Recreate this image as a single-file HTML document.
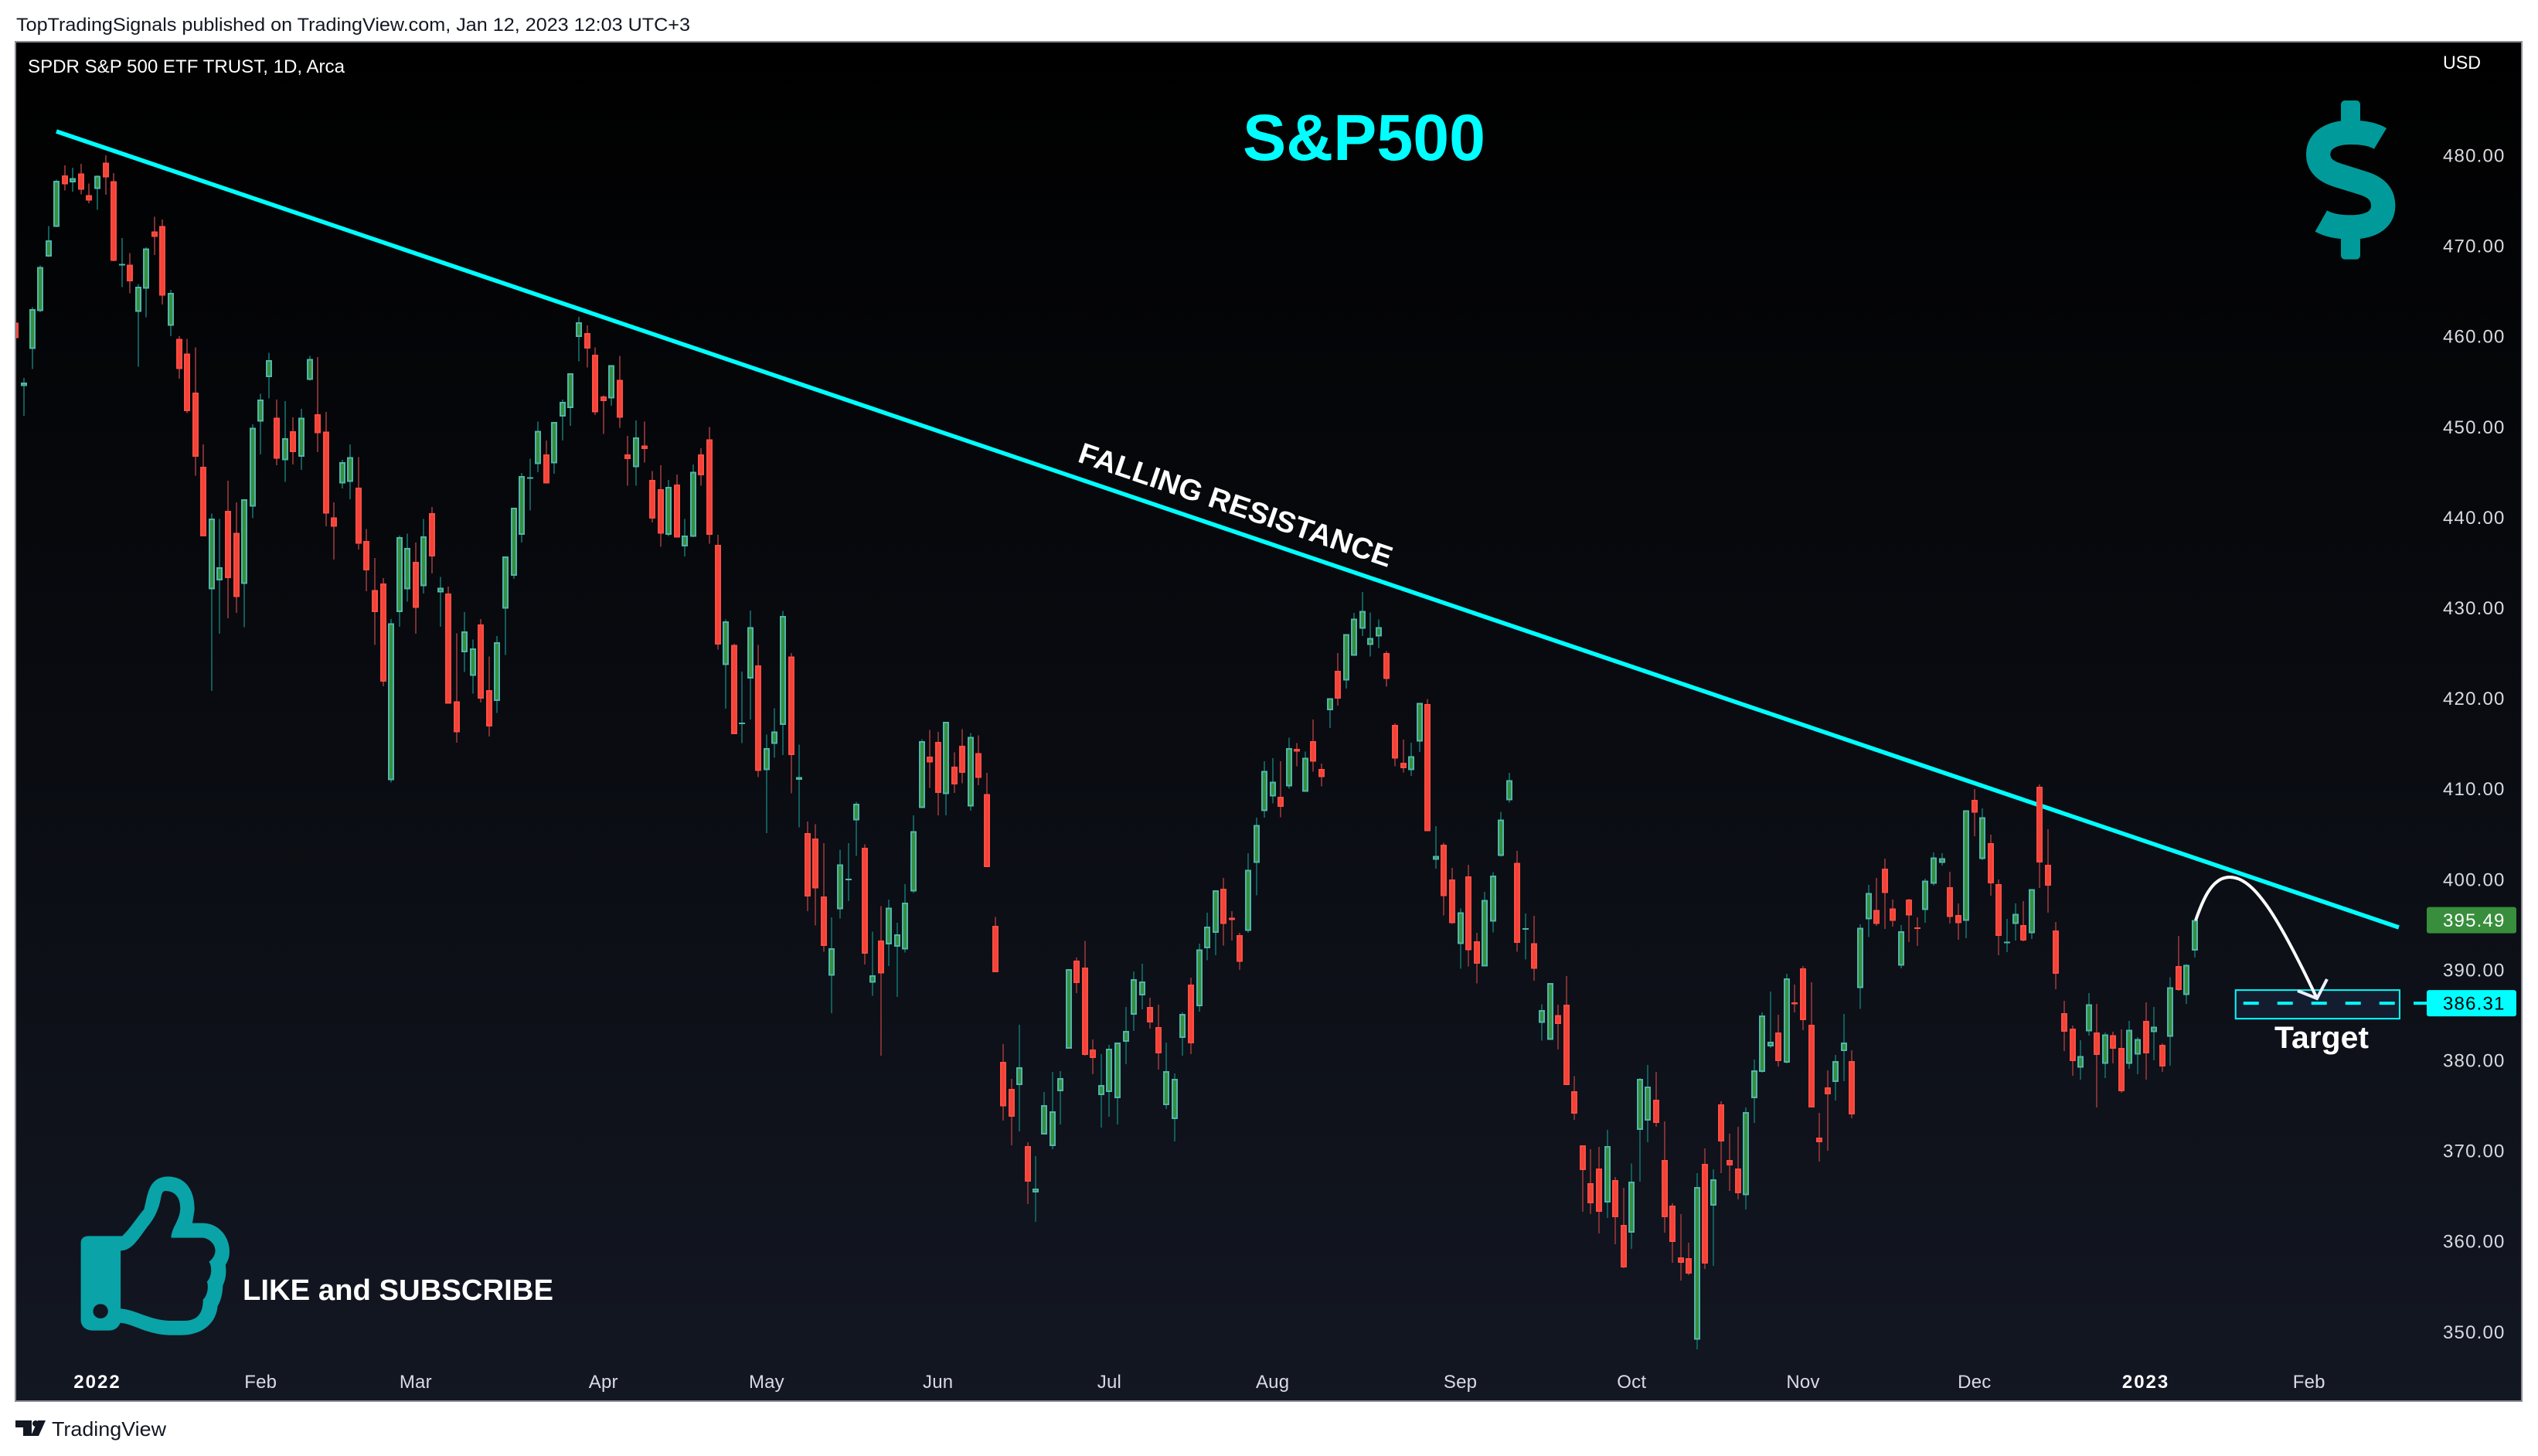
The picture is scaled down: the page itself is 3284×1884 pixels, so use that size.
<!DOCTYPE html>
<html lang="en">
<head>
<meta charset="utf-8">
<title>SPDR S&amp;P 500 ETF TRUST chart</title>
<style>
html,body{margin:0;padding:0;background:#fff;width:3284px;height:1884px;overflow:hidden}
svg{display:block}
text{font-family:"Liberation Sans",sans-serif}
</style>
</head>
<body>
<svg id="chart" xmlns="http://www.w3.org/2000/svg" width="3284" height="1884" viewBox="0 0 3284 1884">
  <defs>
    <linearGradient id="paneGrad" x1="0" y1="0" x2="0" y2="1">
      <stop offset="0" stop-color="#000000"/>
      <stop offset="1" stop-color="#131722"/>
    </linearGradient>
    <clipPath id="paneClip"><rect x="21" y="55" width="3241" height="1757"/></clipPath>
  </defs>

  <text x="21" y="40" font-size="24" fill="#131722" textLength="872" lengthAdjust="spacingAndGlyphs">TopTradingSignals published on TradingView.com, Jan 12, 2023 12:03 UTC+3</text>

  <rect x="20" y="54" width="3243" height="1759" fill="url(#paneGrad)" stroke="#8b8e96" stroke-width="2"/>

  <text x="36" y="94" font-size="24" fill="#ffffff" textLength="410" lengthAdjust="spacingAndGlyphs">SPDR S&amp;P 500 ETF TRUST, 1D, Arca</text>
  <text x="3161" y="89" font-size="24" fill="#ffffff" textLength="49" lengthAdjust="spacingAndGlyphs">USD</text>
  <text x="1608" y="207" font-size="84" font-weight="bold" fill="#00ffff" textLength="314" lengthAdjust="spacingAndGlyphs">S&amp;P500</text>

  <g id="annotLayer" clip-path="url(#paneClip)"></g>
  <g id="candleLayer" clip-path="url(#paneClip)" shape-rendering="crispEdges"></g>

  <text transform="translate(1393,597) rotate(18.8)" font-size="38" font-weight="bold" fill="#ffffff" textLength="426" lengthAdjust="spacingAndGlyphs">FALLING RESISTANCE</text>

  <path d="M2841 1191 C2850 1165 2862 1135 2885 1135 C2915 1135 2945 1180 2998 1292" fill="none" stroke="#ffffff" stroke-width="4"/>
  <polyline points="3011,1267 2998,1292 2973,1282" fill="none" stroke="#eaf0ff" stroke-width="4"/>
  <text x="2943" y="1356" font-size="40" font-weight="bold" fill="#ffffff" textLength="122" lengthAdjust="spacingAndGlyphs">Target</text>

  <g transform="translate(2850,40) scale(0.3333)">
    <rect x="537" y="270" width="75" height="110" rx="16" fill="#019a9a"/>
    <rect x="537" y="780" width="75" height="107" rx="16" fill="#019a9a"/>
    <path d="M690 418 C660 400 620 394 575 394 C500 394 449 425 449 478 C449 530 490 550 530 562 L620 590 C670 605 701 630 701 680 C701 735 650 762 575 762 C530 762 490 755 460 738" fill="none" stroke="#019a9a" stroke-width="94"/>
    <circle cx="695" cy="410" r="0" fill="#019a9a"/>
  </g>

  <g transform="translate(0,1480) scale(0.5102,0.3333)">
    <path fill="#09a3a8" fill-rule="evenodd" d="M225 358 L310 358 C330 330 350 280 365 255 C375 200 375 130 425 127 C475 127 495 190 493 260 L488 308 L515 308 C560 310 583 370 582 420 C582 440 578 455 572 470 C575 500 572 530 565 550 C565 580 560 610 552 630 C548 700 510 743 460 743 L430 743 C370 740 340 700 305 695 C300 715 290 725 275 725 L235 725 C215 725 205 705 205 685 L205 385 C205 368 212 358 225 358 Z M306 415 C335 415 350 370 375 320 C395 285 405 240 408 210 C410 195 412 185 418 183 C445 183 458 210 457 255 C455 300 435 325 434 365 L515 365 C535 370 546 395 546 415 C546 430 540 447 530 458 C538 475 538 515 525 535 C530 560 525 590 515 605 C515 650 505 685 470 687 L430 687 C380 685 345 645 306 640 Z M236 650 A19 28 0 1 0 274 650 A19 28 0 1 0 236 650 Z"/>
  </g>
  <text x="314" y="1682" font-size="38" font-weight="bold" fill="#ffffff" textLength="402" lengthAdjust="spacingAndGlyphs">LIKE and SUBSCRIBE</text>

  <g id="yAxis"></g>
  <g id="xAxis"></g>
  <g id="tags"></g>

  <g fill="#131722">
    <path d="M20 1838 H41 V1858 H30 V1847 H20 Z M59 1838 L50 1858 H40 L49 1838 Z"/>
    <circle cx="46" cy="1842" r="4"/>
    <text x="67" y="1858" font-size="26" textLength="148" lengthAdjust="spacingAndGlyphs">TradingView</text>
  </g>
</svg>

<script>
// Bars start at index -10 (Dec 2021); bar 0 = first session of 2022.
const firstBar = -10;
const opens = [
461.5,454.5,458.6,462.8,468.8,472.1,477.8,477.0,478.0,475.6,
476.3,479.2,477.15,467.85,467.9,462.7,465.25,471.6,472.2,461.15,
459.7,458.1,453.8,445.6,432.05,433.05,440.7,438.3,432.65,441.2,
450.6,455.5,451,446.3,449.5,446.7,455.2,451.4,449.45,440,
443.75,443.9,443.3,437.4,431.95,432.7,410.95,429.55,432.05,435.1,
432.4,440.45,431.7,431.6,419.65,425.1,422.5,428.15,420.9,419.7,
429.9,433.55,438.05,444.3,445.9,446.95,445.97,451.15,452.06,459.95,
460.35,457.95,453.35,453.15,455.2,446.95,445.55,447.95,444.15,443.1,
438.05,443.6,436.8,437.85,446.95,448.6,436.95,423.7,425.9,417.2,
422.2,423.65,412.05,414.97,417.05,424.6,411,405.1,404.5,398.1,
389.35,396.7,399.9,406.5,403.5,388.6,393.25,392.8,392.55,392.25,
398.65,407.9,413.55,415.2,409.4,412.45,414.75,408.05,413.95,409.4,
394.85,379.83,376.84,377.27,370.52,365.4,371.81,370.52,376.59,381.28,
391.02,390.25,381.2,376.16,376.5,375.82,382.05,385.04,387.18,385.9,
383.68,375.05,373.51,382.48,388.37,385.98,392.4,394.1,398.96,395.75,
393.85,394.3,401.8,407.54,409.18,409.1,410.28,414.4,409.67,415.28,
412.19,418.7,423.06,421.99,424.7,427.7,425.9,426.83,425,417.07,
412.88,412.07,415.24,419.36,402.16,403.84,399.99,392.86,400.33,393.17,
390.38,395.34,402.58,408.72,401.82,394.46,392.94,384.13,382.25,385.01,
386.15,376.59,370.61,366.43,368.05,364.29,366.77,361.81,360.96,372.32,
373.34,375.65,368.99,363.95,358.23,358.14,349.12,368.56,363.95,375.14,
368.99,368.05,365.09,375.82,378.72,381.54,383.08,379.75,386.41,390.17,
383.93,371.46,377.02,377.61,381.03,379.92,387.97,395.6,396.63,401.18,
396.8,390.45,397.77,394.69,396.63,399.53,401.8,399.13,396.06,395.4,
408.78,402.23,404,399.47,392.92,395.09,394.95,394.04,410.23,401.61,
394.35,385.21,383.5,379.21,383.19,383.08,379.6,382.79,381.37,379.6,
380.63,384.36,383.1,381.71,382.59,390.42,387.23,392.13
];
const highs = [
464.8,455.4,463.2,467.85,472.2,477.3,478.9,478.65,479.05,476.9,
477.8,480,478.05,470.85,469.2,465.8,469.85,473.2,472.9,465.15,
460,459.7,458.8,448.05,440.4,439.8,444.05,441.65,442,450.3,
453.65,458.2,453,452.85,451.05,452,457.85,457.7,451.65,441.65,
446.35,448.05,446.65,438.7,435.5,433.3,428.75,438,438.2,437.2,
439.8,441.15,433.4,432.35,427.2,429.55,426.5,428.75,424.6,426.9,
435.7,441.05,444.9,446.5,450.6,448.5,450.55,453,455.9,462.15,
461.2,458.8,453.5,456.8,457.85,449,450.7,450.6,445.1,445.75,
444.15,444.75,439.8,445.85,447.65,450,438.05,428.7,426.05,422.95,
429.7,425.9,416,418.9,429.65,425,414.9,406.4,406.1,404,
395.8,403.25,404,408.55,403.85,394.2,397.05,397.75,395.2,399.45,
407.05,415.5,416.5,416.3,417.4,414.05,416.6,416.15,415.9,411.75,
395.85,381.8,377.95,383.93,370.95,369.41,376.5,378.72,378.81,390.08,
391.36,393.2,382.31,380.69,381.71,381.97,385.9,389.82,390.68,386.92,
386.15,381.97,378.55,385.3,389.14,392.9,396.33,398.8,400.14,396.5,
394.08,402.9,406.8,413.07,413.37,413.07,415.66,415.05,414.13,417.68,
412.8,420,425,427.1,429.46,431.75,429.5,428.7,425.23,417.22,
415.43,415.09,419.51,419.93,405.86,404.03,401.25,396.79,401.59,394.08,
398.62,400.79,407.46,411.77,403.15,396.22,395.99,386.21,388.52,386.15,
389.3,378.27,370.61,370.18,370.44,372.32,367.11,365.91,368.59,378.04,
379.49,378.72,373.26,364.21,363.01,359.85,367.54,370.27,367.96,375.48,
371.89,372.66,374.79,380.09,385.3,387.6,385.04,389.57,388.37,390.42,
388.63,374.2,378.89,380.6,385.13,381.11,395.03,399.39,400.16,402.29,
397.77,394.95,397.85,395.8,400.07,402.97,402.89,400.84,397.34,407.64,
409.98,407.84,404.94,399.98,395.63,397.34,397.59,398.93,410.49,405.54,
395.29,386.58,383.85,382.22,387.43,386.24,383.08,383.16,383.42,384.36,
382.56,386.41,385.9,381.88,389.2,393.75,390.65,395.49
];
const lows = [
458.3,451.2,456.4,462.65,468.75,472.05,476.1,476,475.7,474.7,
474,475.65,468.3,465.45,464.75,456.65,462.1,469,463.5,460,
455.3,451.5,444.6,437.9,420.8,427.15,428.85,429.45,427.85,439.9,
446.95,453.15,445.75,443.9,445.85,445.25,455.1,447.2,439,435.35,
443.2,442,436.45,431.85,425.9,421.35,410.7,427.9,430.7,427.15,
431.6,433.8,427.9,419.4,415.1,422.9,420.5,419.55,415.8,418.4,
424.8,433.2,437.2,440.75,445,443.75,444.8,448.5,450.1,457.25,
456.55,451.3,449.2,452.35,449.9,443.5,443.5,446.05,439.45,436.75,
437.9,437.75,435.7,437.8,443.5,437.1,425.4,418.85,416.05,415.05,
417.65,411.3,405.1,413.45,413.75,409.5,405.75,396.5,394.9,392,
385.2,395.65,397.6,402.6,390.6,387.15,380.5,390.4,387,391.9,
398.5,407.9,410.1,407.05,407.05,409.55,410.6,407.6,410.4,401.35,
389.75,373.34,370.61,372.15,364.12,362.16,371.81,370.18,372.92,381.28,
387.43,380.5,378.47,372.57,373.77,372.92,379.58,383.25,385.64,383.5,
378.98,374.62,371.04,380.52,380.69,385.4,391.07,391.6,392.7,393.24,
390,394.1,398.24,406.8,408.4,406.85,410,412.5,409.67,411.88,
410.28,416.73,419.2,421.07,424.7,426.87,424.6,425.57,421.3,412.5,
411.81,411.43,414.06,405.33,401.17,396.03,395.07,390.1,390.38,388.48,
390.38,394.12,402.5,408.49,391.98,391.15,388.78,382.17,382.25,381.2,
377.27,373.43,363.26,363.01,360.87,362.58,359.68,357.03,359.17,366.6,
370.95,372.66,360.96,357.63,355.66,356.26,348.07,356.95,357.29,367.54,
365.57,364.63,363.52,373.09,378.64,381.37,379.32,379.66,385.3,383.33,
374.79,368.82,370.01,375.56,377.7,373.6,385.67,393.61,394.86,394.52,
394.78,390.16,393.07,392.64,395.2,399.3,401.52,395.12,393.33,393.5,
404.77,402.12,398.19,391.62,391.96,393.24,393.15,393.41,399.05,396.31,
387.86,381.03,378.29,377.87,382.73,374.79,378.04,379.66,376.42,379.06,
378.46,377.87,380,378.72,379.4,387.69,386.24,391.36
];
const closes = [
459.8,454.9,463.0,467.65,470.6,477.2,476.8,477.5,476.2,475.0,
477.75,477.55,468.35,468.0,466.1,465.5,469.7,471.0,464.5,464.8,
456.4,451.75,446.7,437.9,439.85,434.5,433.3,431.2,442,449.9,
453,457.35,446.5,448.75,447.2,451,457.5,449.3,440.4,438.95,
446.1,446.65,437.1,434.15,429.55,421.85,428.3,437.8,436.6,430,
437.9,435.7,432.2,419.4,416.25,427.4,425.5,419.95,416.9,426.2,
435.7,441.05,444.55,444.45,449.55,443.75,450.55,452.75,455.9,461.55,
458.65,451.6,452.85,456.8,451,446.45,448.85,447.55,439.85,438.2,
443.35,437.75,438,445.05,444.65,438.05,425.95,428.5,416.05,417.3,
427.85,412,414.5,416.35,429.1,413.75,411.3,398.1,399,392.65,
392.4,401.65,400.05,408.35,391.8,389.4,389.6,396.85,393.9,397.4,
405.3,415.25,412.9,409.55,417.4,410.5,411.75,415.75,411.2,401.35,
389.75,374.91,373.77,379.24,366.6,365.83,375.05,374.37,378.04,390.08,
388.54,380.6,380.26,377.27,381.28,381.97,383.25,388.97,388.71,384.19,
380.77,378.81,377.95,385.13,381.88,392.25,394.77,398.8,395.07,395.52,
390.88,401.06,406,412,410.78,408.03,414.48,414.1,413.45,412.99,
411.31,420,419.97,427.1,428.81,429.65,426.68,427.86,422.14,413.33,
412.27,413.6,419.51,405.33,402.58,398.16,395.15,396.37,392.17,390.69,
397.74,400.41,406.62,410.97,393,394.6,390.12,385.53,388.52,384.02,
377.27,374.11,367.88,364.21,363.26,370.52,362.67,357.12,366.6,377.95,
377.1,373.09,362.67,359.94,357.63,356.43,366,357.55,366.85,371.04,
368.39,365.31,374.28,378.89,384.96,382.05,379.92,389.06,386.18,384.44,
374.79,370.95,376.25,379.92,381.97,374.03,394.66,398.5,395.06,398.48,
395.4,394.24,396,394.55,399.87,402.43,402.35,395.83,395.15,407.64,
407.36,406.87,399.56,393.75,393.12,396.2,393.24,398.93,401.86,399.3,
389.57,383.16,379.92,380.49,386.21,380.6,382.88,381.28,376.59,383.39,
382.36,380.77,383.73,379.32,388.09,387.77,390.56,395.49
];
const priceTicks = [480,470,460,450,440,430,420,410,400,390,380,370,360,350];
const timeLabels = ['2022','Feb','Mar','Apr','May','Jun','Jul','Aug','Sep','Oct','Nov','Dec','2023','Feb'];
const timeBars = [0,20,39,62,82,103,124,144,167,188,209,230,251,271];
const trendBars = [-5.02,282];
const trendPrices = [482.65,394.69];
const targetPrice = 386.31;
const targetBars = [262,282.1];
const targetRange = [387.76,384.6];

function xOf(bar){ return 126 + bar * 10.56; }
function yOf(price){ return 201 + (480 - price) * 11.71; }

const NS = 'http://www.w3.org/2000/svg';
function make(tag, attrs, parent){
  const el = document.createElementNS(NS, tag);
  for (const k in attrs) el.setAttribute(k, attrs[k]);
  parent.appendChild(el);
  return el;
}

// Annotations under the candles
const annot = document.getElementById('annotLayer');
const trend = make('line', {x1:xOf(trendBars[0]), y1:yOf(trendPrices[0]), x2:xOf(trendBars[1]), y2:yOf(trendPrices[1]), stroke:'#00ffff', 'stroke-width':5.5}, annot);


const box = make('rect', {x:xOf(targetBars[0]), y:yOf(targetRange[0]), width:xOf(targetBars[1])-xOf(targetBars[0]), height:yOf(targetRange[1])-yOf(targetRange[0]), fill:'#141d2f', stroke:'#00ffff', 'stroke-width':2}, annot);


const dash = make('line', {x1:xOf(targetBars[0])+10, x2:xOf(targetBars[1]), y1:yOf(targetPrice), y2:yOf(targetPrice), stroke:'#00ffff', 'stroke-width':4, 'stroke-dasharray':'20 24'}, annot);



// Candles
const layer = document.getElementById('candleLayer');
for (let i = 0; i < closes.length; i++) {
  const bar = firstBar + i;
  const up = closes[i] >= opens[i];
  const cx = Math.round(xOf(bar));
  const g = make('g', {}, layer);
  
  
  make('rect', {x:cx-1, y:yOf(highs[i]), width:2, height:Math.max(1, yOf(lows[i])-yOf(highs[i])), fill: up ? '#115c5a' : '#7c3034'}, g);
  const top = yOf(Math.max(opens[i], closes[i]));
  const bot = yOf(Math.min(opens[i], closes[i]));
  make('rect', {x:cx-3, y:top+1, width:6, height:Math.max(0.01, bot-top-2), fill: up ? '#388e3c' : '#f44336', stroke: up ? '#4db6ac' : '#ff4d44', 'stroke-width':2}, g);
}

// Price axis
const yAxis = document.getElementById('yAxis');
priceTicks.forEach(function(p){
  const t = make('text', {x:3161, y:yOf(p)+8.5, 'font-size':24, fill:'#d9dbe2', 'letter-spacing':'1.2'}, yAxis);
  t.textContent = p.toFixed(2);
  
  
});

// Time axis
const xAxis = document.getElementById('xAxis');
timeLabels.forEach(function(label, i){
  const isYear = /^\d+$/.test(label);
  const t = make('text', {x:xOf(timeBars[i]), y:1796, 'font-size':24, 'text-anchor':'middle', fill: isYear ? '#ffffff' : '#d9dbe2', 'font-weight': isYear ? 'bold' : 'normal', 'letter-spacing': isYear ? '2' : '0.2'}, xAxis);
  t.textContent = label;
  
  
});

// Price tags
const tags = document.getElementById('tags');
const lastClose = closes[closes.length - 1];
const lastRect = make('rect', {x:3140, y:yOf(lastClose)-17, width:116, height:34, rx:3, fill:'#388e3c'}, tags);


const lastText = make('text', {x:3161, y:yOf(lastClose)+8.5, 'font-size':24, fill:'#ffffff', 'letter-spacing':'1.2'}, tags);
lastText.textContent = lastClose.toFixed(2);


const tick = make('rect', {x:3123, y:yOf(targetPrice)-2, width:17, height:4, fill:'#00ffff'}, tags);


const tRect = make('rect', {x:3140, y:yOf(targetPrice)-17, width:116, height:34, rx:3, fill:'#00ffff'}, tags);


const tText = make('text', {x:3161, y:yOf(targetPrice)+8.5, 'font-size':24, fill:'#000000', 'letter-spacing':'1.2'}, tags);
tText.textContent = targetPrice.toFixed(2);


</script>
</body>
</html>
